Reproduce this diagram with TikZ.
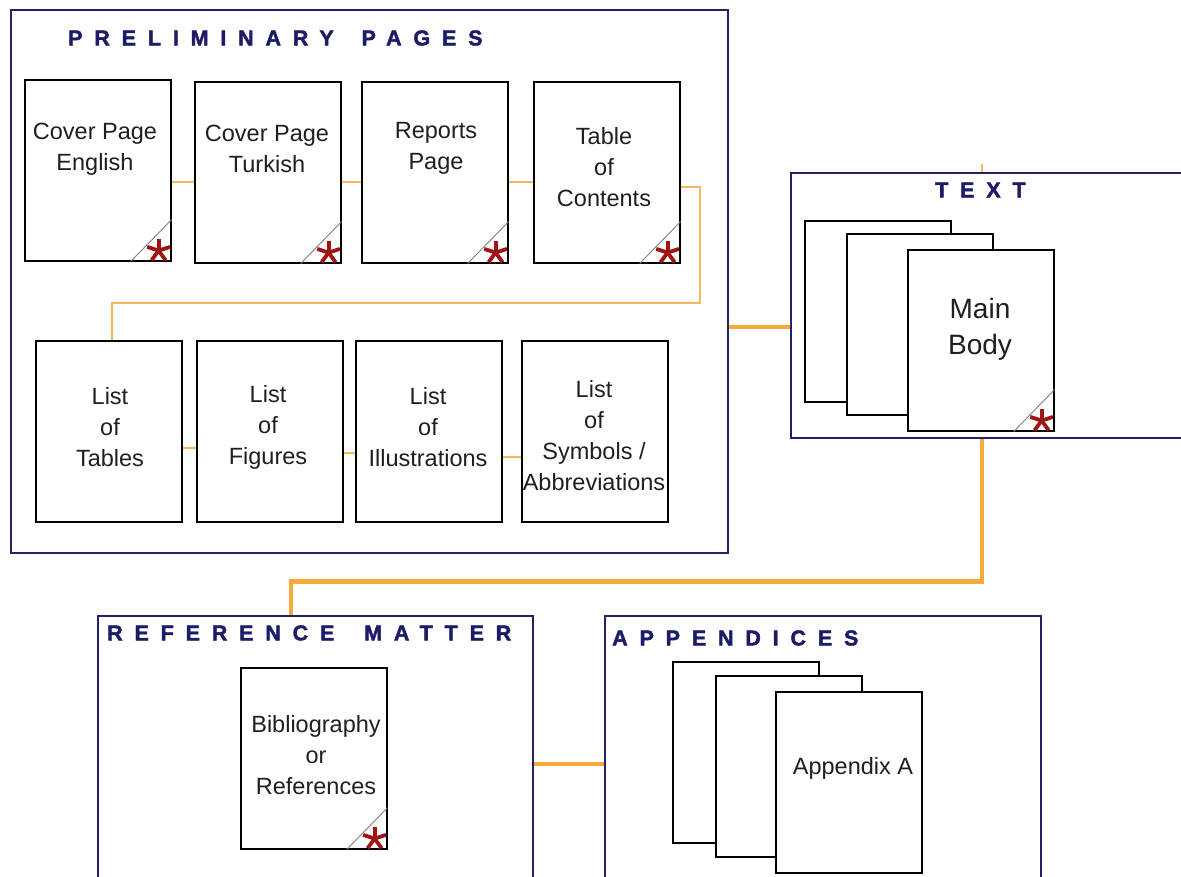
\documentclass[tikz,border=0pt]{standalone}
\usepackage{fontspec}
\setmainfont{Liberation Sans}
\newfontfamily\titlefont[LetterSpace=55,FakeBold=2]{Liberation Sans Bold}
\usetikzlibrary{calc}
\definecolor{navy}{RGB}{28,28,105}
\definecolor{boxnavy}{RGB}{35,35,100}
\definecolor{orng}{RGB}{246,170,60}
\definecolor{lorng}{RGB}{242,185,90}
\definecolor{astred}{RGB}{160,20,20}
\newcommand\pgcorner[2]{%
  \draw[diag] ([xshift=-41pt]#1.south east) -- ([yshift=42pt]#1.south east);
  \coordinate (#2) at ([xshift=-13pt,yshift=11pt]#1.south east);
  \foreach \a in {90,18,162,234,306} \draw[ast] (#2) -- ++(\a:12pt);}
\begin{document}
\begin{tikzpicture}[x=1pt,y=-1pt,
  cont/.style={draw=boxnavy, line width=1.6pt, anchor=north west, inner sep=0pt},
  pg/.style={draw=black, line width=1.6pt, fill=white, minimum width=146pt, minimum height=181pt, anchor=north west, inner sep=0pt},
  lbl/.style={align=center, font=\fontsize{23.5}{31}\selectfont, text=black!88, inner sep=0pt},
  ttl/.style={font=\titlefont\fontsize{21.5}{24}\selectfont, text=navy, inner sep=0pt},
  thinc/.style={draw=lorng, line width=1.5pt},
  thickc/.style={draw=orng, line width=4.5pt},
  diag/.style={draw=gray, line width=0.9pt},
  ast/.style={draw=astred, line width=3.8pt}]
\useasboundingbox (0,0) rectangle (1181,877);
\fill[white] (0,0) rectangle (1181,877);
% containers
\node[cont, minimum width=717pt, minimum height=543pt] (prel) at (10,9) {};
\node[cont, minimum width=420pt, minimum height=265pt] (txt) at (790,172) {};
\node[cont, minimum width=435pt, minimum height=290pt] (ref) at (97,615) {};
\node[cont, minimum width=436pt, minimum height=290pt] (app) at (604,615) {};
% titles
\node[ttl, anchor=west] (prelT) at (68,38) {PRELIMINARY\hspace{10pt} PAGES};
\node[ttl, anchor=west] (txtT) at (935,190) {TEXT};
\node[ttl, anchor=west] (refT) at (107,633) {REFERENCE\hspace{12pt} MATTER};
\node[ttl, anchor=west] (appT) at (612,638) {APPENDICES};
\coordinate (txtmid) at (982,190);
% row 1
\node[pg] (p1) at (24,79) {};
\node[pg] (p2) at (194,81) {};
\node[pg] (p3) at (361,81) {};
\node[pg] (p4) at (533,81) {};
% row 2
\node[pg] (q1) at (35,340) {};
\node[pg] (q2) at (196,340) {};
\node[pg] (q3) at (355,340) {};
\node[pg] (q4) at (521,340) {};
% text stack
\node[pg] (m1) at (804,220) {};
\node[pg] (m2) at (846,233) {};
\node[pg] (m3) at (907,249) {};
% reference
\node[pg] (r1) at (240,667) {};
% appendices
\node[pg] (a1) at (672,661) {};
\node[pg] (a2) at (715,675) {};
\node[pg] (a3) at (775,691) {};
% labels
\node[lbl] (l1) at (95,149) {Cover Page\\English};
\node[lbl] (l2) at (267,149) {Cover Page\\Turkish};
\node[lbl] (l3) at (436,148) {Reports\\Page};
\node[lbl] (l4) at (604,167) {Table\\of\\Contents};
\node[lbl] (k1) at (110,427) {List\\of\\Tables};
\node[lbl] (k2) at (268,427) {List\\of\\Figures};
\node[lbl] (k3) at (428,427) {List\\of\\Illustrations};
\node[lbl] (k4) at (594,436) {List\\of\\Symbols /\\Abbreviations};
\node[lbl, font=\fontsize{28}{36}\selectfont] (mb) at (980,329) {Main\\Body};
\node[lbl] (bib) at (316,755) {Bibliography\\or\\References};
\node[lbl] (apA) at (853,768) {Appendix A};
% corners
\pgcorner{p1}{s1}
\pgcorner{p2}{s2}
\pgcorner{p3}{s3}
\pgcorner{p4}{s4}
\pgcorner{m3}{s5}
\pgcorner{r1}{s6}
% thin connectors
\draw[thinc] ([yshift=-11.5pt]p1.east) -- ([yshift=-11.5pt]p1.east -| p2.west);
\draw[thinc] ([yshift=-9.5pt]p2.east) -- ([yshift=-9.5pt]p2.east -| p3.west);
\draw[thinc] ([yshift=-9.5pt]p3.east) -- ([yshift=-9.5pt]p3.east -| p4.west);
\coordinate (tocbend) at (700,303);
\draw[thinc] ([yshift=-14.5pt]p4.east) -| (tocbend) -| ([xshift=3pt]q1.north);
\draw[thinc] ([yshift=-16.5pt]q1.east) -- ([yshift=-16.5pt]q1.east -| q2.west);
\draw[thinc] ([yshift=-21.5pt]q2.east) -- ([yshift=-21.5pt]q2.east -| q3.west);
\draw[thinc] ([yshift=-25.5pt]q3.east) -- ([yshift=-25.5pt]q3.east -| q4.west);
\draw[thinc] (txt.north -| txtmid) -- ++(0,-8);
% thick connectors
\coordinate (j1) at ([yshift=-45.5pt]prel.east);
\draw[thickc] (j1) -- (j1 -| txt.west);
\coordinate (j2) at (txt.south -| txtmid);
\draw[thickc] (j2) -- ++(0,143) -| ([xshift=-24.5pt]ref.north);
\coordinate (j3) at ([yshift=-3pt]ref.east);
\draw[thickc] (j3) -- (j3 -| app.west);
\end{tikzpicture}
\end{document}
